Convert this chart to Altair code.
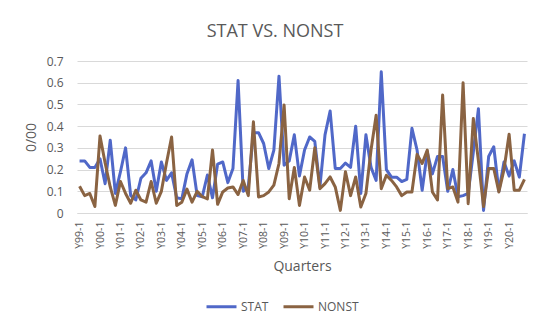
import altair as alt
import pandas as pd

YEARS = ["99", "00", "01", "02", "03", "04", "05", "06", "07", "08", "09",
         "10", "11", "12", "13", "14", "15", "16", "17", "18", "19", "20"]
QUARTERS = [f"Y{y}-{q}" for y in YEARS for q in (1, 2, 3, 4)]
TICKS = [f"Y{y}-1" for y in YEARS]

STAT = [0.24, 0.24, 0.21, 0.21, 0.25, 0.135, 0.335, 0.09, 0.19, 0.30,
        0.08, 0.06, 0.16, 0.185, 0.24, 0.10, 0.235, 0.15, 0.185, 0.07,
        0.065, 0.18, 0.245, 0.08, 0.075, 0.175, 0.07, 0.225, 0.235, 0.14,
        0.205, 0.61, 0.10, 0.12, 0.37, 0.37, 0.32, 0.205, 0.29, 0.63,
        0.22, 0.24, 0.36, 0.17, 0.29, 0.35, 0.33, 0.12, 0.36, 0.47,
        0.205, 0.205, 0.23, 0.21, 0.40, 0.09, 0.36, 0.21, 0.15, 0.65,
        0.20, 0.165, 0.165, 0.145, 0.155, 0.39, 0.29, 0.105, 0.28, 0.18,
        0.26, 0.26, 0.10, 0.20, 0.075, 0.08, 0.09, 0.28, 0.48, 0.012,
        0.26, 0.305, 0.10, 0.235, 0.17, 0.24, 0.165, 0.365]

NONST = [0.123, 0.08, 0.09, 0.03, 0.355, 0.23, 0.12, 0.035, 0.145, 0.09,
         0.045, 0.105, 0.06, 0.05, 0.145, 0.045, 0.10, 0.23, 0.35, 0.035,
         0.05, 0.11, 0.05, 0.10, 0.075, 0.065, 0.29, 0.04, 0.097, 0.115,
         0.12, 0.085, 0.15, 0.08, 0.42, 0.074, 0.08, 0.097, 0.128, 0.228,
         0.497, 0.066, 0.21, 0.035, 0.166, 0.105, 0.30, 0.112, 0.135, 0.166,
         0.12, 0.012, 0.19, 0.08, 0.166, 0.028, 0.09, 0.29, 0.45, 0.112,
         0.174, 0.15, 0.12, 0.08, 0.097, 0.097, 0.27, 0.228, 0.29, 0.097,
         0.06, 0.543, 0.112, 0.12, 0.05, 0.60, 0.043, 0.435, 0.24, 0.03,
         0.205, 0.205, 0.097, 0.20, 0.363, 0.105, 0.105, 0.155]

SERIES = ["STAT", "NONST"]
COLORS = ["#5068c8", "#8a6342"]
Y_TICKS = [0, 0.1, 0.2, 0.3, 0.4, 0.5, 0.6, 0.7]

df = pd.DataFrame({
    "Quarter": QUARTERS * 2,
    "Series": ["STAT"] * len(STAT) + ["NONST"] * len(NONST),
    "Value": STAT + NONST,
    "idx": list(range(len(QUARTERS))) * 2,
})

FONT = "Open Sans"
GRAY = "#595959"

chart = alt.Chart(df).mark_line(strokeWidth=3, strokeJoin="round").encode(
    x=alt.X("Quarter:O", sort=QUARTERS,
            scale=alt.Scale(type="point", padding=0.5),
            axis=alt.Axis(values=TICKS, labelAngle=270, ticks=False,
                          domainColor="#d9d9d9", domainWidth=1,
                          labelPadding=8, labelFontSize=10.5, labelColor=GRAY,
                          labelFont=FONT, grid=False,
                          title="Quarters", titleFontSize=14,
                          titleFontWeight="normal", titleColor=GRAY,
                          titleFont=FONT, titlePadding=11)),
    y=alt.Y("Value:Q", scale=alt.Scale(domain=[0, 0.7], nice=False),
            axis=alt.Axis(values=Y_TICKS, format=".1~f", domain=False,
                          ticks=False, gridColor="#d9d9d9", labelPadding=14,
                          labelFontSize=12, labelColor=GRAY, labelFont=FONT,
                          title="0/00", titleFontSize=14,
                          titleFontWeight="normal", titleColor=GRAY,
                          titleFont=FONT, titlePadding=8)),
    color=alt.Color("Series:N", scale=alt.Scale(domain=SERIES, range=COLORS),
                    legend=alt.Legend(orient="none", legendX=128, legendY=229,
                                      direction="horizontal", title=None,
                                      symbolType="stroke", symbolStrokeWidth=3,
                                      symbolSize=900, labelFontSize=12,
                                      labelColor=GRAY, labelFont=FONT,
                                      columnPadding=8, labelOffset=3)),
    order=alt.Order("idx:Q"),
).properties(
    width=450,
    height=152,
    padding={"left": 69, "top": 53, "right": 15, "bottom": 114},
    autosize=alt.AutoSizeParams(type="none"),
    title=alt.TitleParams("STAT VS. NONST", fontSize=18, fontWeight="normal",
                          color=GRAY, font=FONT, anchor="middle", dx=-27,
                          offset=14),
).configure_view(stroke=None)

chart.save("out.html", embed_options={"renderer": "svg", "actions": False})
